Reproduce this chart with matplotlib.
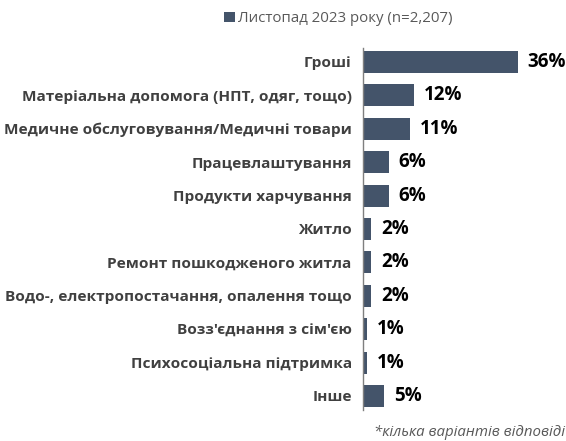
import matplotlib.pyplot as plt
import numpy as np

categories = ['Гроші', 'Матеріальна допомога (НПТ, одяг, тощо)',
              'Медичне обслуговування/Медичні товари', 'Працевлаштування',
              'Продукти харчування', 'Житло', 'Ремонт пошкодженого житла',
              'Водо-, електропостачання, опалення тощо', "Возз'єднання з сім'єю",
              'Психосоціальна підтримка', 'Інше']
values = [36, 12, 11, 6, 6, 2, 2, 2, 1, 1, 5]
series_label = 'Листопад 2023 року (n=2,207)'
footnote = '*кілька варіантів відповіді'

bar_color = '#44546A'
plt.rcParams['font.family'] = ['Open Sans', 'DejaVu Sans']

fig = plt.figure(figsize=(5.66, 4.41), dpi=100)
ax = fig.add_axes([0.641, 0.0703, 0.359, 0.821])

y = np.arange(len(categories))
bars = ax.barh(y, values, height=0.66, color=bar_color, label=series_label)
ax.set_ylim(len(categories) - 0.58, -0.42)
ax.set_xlim(0, 47.2)
ax.set_yticks(y)
ax.set_yticklabels(categories, fontsize=11.1, fontweight='bold', color='#404040')
ax.tick_params(axis='y', length=0, pad=8)
ax.set_xticks([])
for s in ['top', 'right', 'bottom']:
    ax.spines[s].set_visible(False)
ax.spines['left'].set_color('#7f7f7f')
ax.spines['left'].set_linewidth(1.0)

for b, v in zip(bars, values):
    ax.annotate('{}%'.format(v), (b.get_width(), b.get_y() + b.get_height() / 2),
                xytext=(7, 0), textcoords='offset points', va='center', ha='left',
                fontsize=13.5, fontweight='bold', color='black')

fig.legend(loc='center', bbox_to_anchor=(0.598, 0.957), frameon=False, fontsize=10.8,
           handlelength=0.7, handleheight=0.7, handletextpad=0.25, labelcolor='#595959')
fig.text(0.998, 0.003, footnote, ha='right', va='bottom', fontsize=10.8, style='italic',
         color='#595959')

fig.savefig('out.png', dpi=100)
